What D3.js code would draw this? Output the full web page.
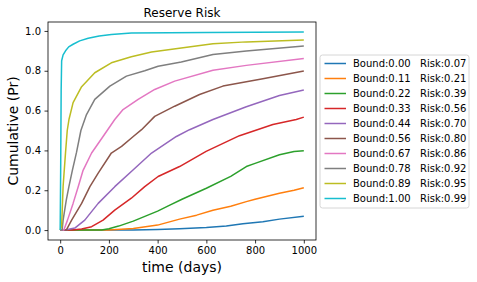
<!DOCTYPE html>
<html>
<head>
<meta charset="utf-8">
<script src="https://cdn.jsdelivr.net/npm/d3@7"></script>
<style>
  body { margin: 0; background: #fff; }
  svg { font-family: "DejaVu Sans", sans-serif; display: block; }
</style>
</head>
<body>
<svg id="chart" width="477" height="282"></svg>
<script>
// curves: [time, cumulative]
const bound000 = [[0,0],[300,0],[400,0.003],[490,0.007],[600,0.013],[682,0.02],[750,0.032],[832,0.042],[900,0.055],[1000,0.07]];
const bound011 = [[0,0],[200,0],[300,0.008],[400,0.025],[490,0.055],[560,0.075],[627,0.1],[700,0.12],[764,0.143],[800,0.155],[900,0.185],[960,0.2],[1000,0.213]];
const bound022 = [[0,0],[170,0],[200,0.007],[240,0.02],[300,0.045],[350,0.07],[400,0.095],[450,0.125],[500,0.155],[600,0.21],[700,0.27],[764,0.319],[800,0.335],[900,0.378],[960,0.395],[1000,0.398]];
const bound033 = [[0,0],[50,0],[88,0.005],[129,0.017],[176,0.05],[224,0.1],[292,0.16],[347,0.218],[402,0.269],[490,0.319],[599,0.395],[736,0.474],[873,0.53],[969,0.555],[1000,0.567]];
const bound044 = [[0,0],[20,0],[60,0.01],[101,0.05],[156,0.134],[224,0.218],[300,0.303],[375,0.387],[477,0.47],[531,0.504],[627,0.555],[764,0.619],[900,0.676],[1000,0.703]];
const bound056 = [[0,0],[25,0],[47,0.05],[88,0.134],[122,0.218],[156,0.286],[210,0.387],[252,0.42],[300,0.47],[334,0.504],[388,0.571],[470,0.622],[572,0.681],[668,0.723],[832,0.76],[1000,0.799]];
const bound067 = [[0,0],[15,0],[30,0.05],[53,0.134],[74,0.218],[94,0.3],[129,0.387],[176,0.47],[224,0.555],[258,0.605],[320,0.656],[388,0.706],[470,0.748],[627,0.803],[764,0.827],[1000,0.862]];
const bound078 = [[0,0],[8,0],[12,0.05],[25,0.15],[36,0.22],[50,0.3],[67,0.39],[85,0.5],[108,0.58],[142,0.656],[204,0.723],[272,0.773],[347,0.8],[402,0.823],[497,0.844],[627,0.882],[764,0.899],[1000,0.924]];
const bound089 = [[0,0],[6,0.02],[12,0.22],[22,0.39],[29,0.5],[36,0.555],[53,0.64],[88,0.72],[142,0.79],[210,0.84],[292,0.87],[375,0.894],[497,0.914],[627,0.935],[764,0.945],[1000,0.955]];
const bound100 = [[0,0],[2,0.3],[4,0.7],[6,0.85],[12,0.88],[22,0.9],[35,0.92],[53,0.933],[80,0.95],[115,0.963],[160,0.975],[210,0.982],[292,0.99],[600,0.992],[1000,0.995]];

const bounds = ['0.00','0.11','0.22','0.33','0.44','0.56','0.67','0.78','0.89','1.00'];
const risks = ['0.07','0.21','0.39','0.56','0.70','0.80','0.86','0.92','0.95','0.99'];
const curves = [bound000, bound011, bound022, bound033, bound044, bound056, bound067, bound078, bound089, bound100];
const xTicks = [0, 200, 400, 600, 800, 1000];
const yTicks = [0.0, 0.2, 0.4, 0.6, 0.8, 1.0];

const colors = ['#1f77b4','#ff7f0e','#2ca02c','#d62728','#9467bd','#8c564b','#e377c2','#7f7f7f','#bcbd22','#17becf'];

const svg = d3.select('#chart');
const m = { left: 48, right: 316, top: 22, bottom: 240 };

const x = d3.scaleLinear().domain([-50, 1050]).range([m.left, m.right]);
const y = d3.scaleLinear().domain([-0.0498, 1.0448]).range([m.bottom, m.top]);

// lines
const line = d3.line().x(d => x(d[0])).y(d => y(d[1]));
svg.append('g')
  .selectAll('path')
  .data(curves)
  .enter()
  .append('path')
  .attr('d', line)
  .attr('fill', 'none')
  .attr('stroke', (d, i) => colors[i])
  .attr('stroke-width', 1.5)
  .attr('stroke-linejoin', 'round');

// axes
const ax = svg.append('g').attr('transform', `translate(0,${m.bottom})`)
  .call(d3.axisBottom(x).tickValues(xTicks).tickSize(3.5).tickPadding(3.5).tickFormat(d3.format('d')));
const ay = svg.append('g').attr('transform', `translate(${m.left},0)`)
  .call(d3.axisLeft(y).tickValues(yTicks).tickSize(3.5).tickPadding(3.5).tickFormat(d3.format('.1f')));
[ax, ay].forEach(a => {
  a.select('.domain').remove();
  a.selectAll('.tick line').attr('stroke', '#000').attr('stroke-width', 0.8);
  a.selectAll('.tick text').attr('fill', '#000').style('font-size', '10px').style('font-family', '"DejaVu Sans"');
});

// frame
svg.append('rect')
  .attr('x', m.left).attr('y', m.top)
  .attr('width', m.right - m.left).attr('height', m.bottom - m.top)
  .attr('fill', 'none').attr('stroke', '#000').attr('stroke-width', 0.8);

// title and labels
svg.append('text').attr('x', (m.left + m.right) / 2).attr('y', 17)
  .attr('text-anchor', 'middle').style('font-size', '12px').text('Reserve Risk');
svg.append('text').attr('x', (m.left + m.right) / 2).attr('y', 272)
  .attr('text-anchor', 'middle').style('font-size', '14px').text('time (days)');
svg.append('text').attr('transform', `translate(18,${(m.top + m.bottom) / 2}) rotate(-90)`)
  .attr('text-anchor', 'middle').style('font-size', '14px').text('Cumulative (Pr)');

// legend
const legend = svg.append('g').attr('transform', 'translate(320,55)');
legend.append('rect').attr('width', 149).attr('height', 153).attr('rx', 2.5)
  .attr('fill', '#fff').attr('stroke', '#ccc').attr('stroke-width', 0.8);
const item = legend.selectAll('g.item').data(bounds).enter().append('g')
  .attr('class', 'item')
  .attr('transform', (d, i) => `translate(0,${8.5 + i * 15})`);
item.append('line').attr('x1', 4.5).attr('x2', 26)
  .attr('stroke', (d, i) => colors[i]).attr('stroke-width', 1.5);
item.append('text').attr('x', 33).attr('y', 3.6).style('font-size', '10px')
  .text(d => 'Bound:' + d);
item.append('text').attr('x', 100).attr('y', 3.6).style('font-size', '10px')
  .text((d, i) => 'Risk:' + risks[i]);
</script>
</body>
</html>
